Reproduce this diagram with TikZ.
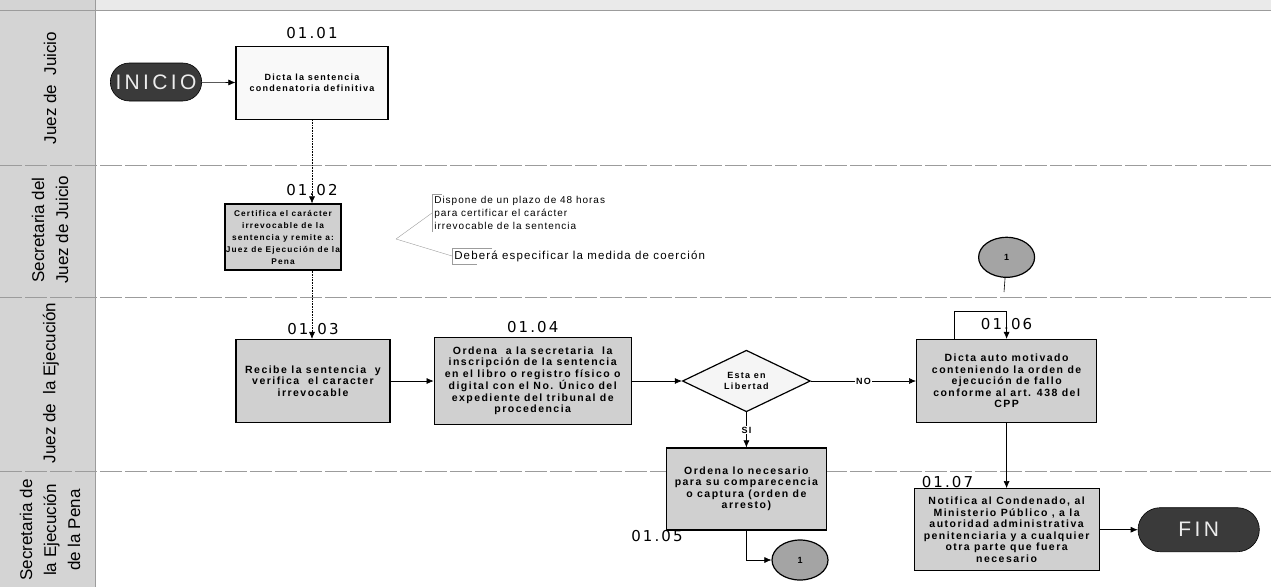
\documentclass[tikz,border=0pt]{standalone}
\usepackage{fontspec}
\setmainfont{Liberation Sans}
\newfontfamily\boxfont[LetterSpace=14]{Liberation Sans}
\newfontfamily\numfont[LetterSpace=14]{DejaVu Sans}
\newfontfamily\termfont[LetterSpace=16]{Liberation Sans}
\newfontfamily\notefont[LetterSpace=10]{Liberation Sans}
\usepackage{tikz}
\usetikzlibrary{arrows.meta,shapes,positioning}

\definecolor{lanegray}{HTML}{D4D4D4}
\definecolor{boxgray}{HTML}{D0D0D0}
\definecolor{termgray}{HTML}{3A3A3A}
\definecolor{circgray}{HTML}{A4A4A4}
\definecolor{linegray}{HTML}{9C9C9C}

\begin{document}
\begin{tikzpicture}
          [x=1pt,y=-1pt,>={Latex[length=7pt,width=6pt]},node distance=43pt,semithick]
          \tikzstyle{stepbox}=[draw=black,line width=1.2pt,fill=boxgray,align=center,inner sep=1pt,font=\boxfont\bfseries\fontsize{10.5}{11.5}\selectfont]
          \tikzstyle{stepnum}=[inner sep=0pt,font=\numfont\fontsize{15}{15}\selectfont]
          \tikzstyle{terminal}=[rounded rectangle,draw=black,fill=termgray,text=white!85!gray,minimum height=38pt,font=\termfont\fontsize{21}{21}\selectfont]
          \tikzstyle{decision}=[diamond,draw=black,line width=1.2pt,fill=gray!8,minimum width=128pt,minimum height=60pt,inner sep=0pt,align=center,font=\boxfont\bfseries\fontsize{9}{11}\selectfont]
          \tikzstyle{offpage}=[ellipse,draw=black,line width=1.2pt,fill=circgray,minimum width=56pt,minimum height=40pt,font=\boxfont\bfseries\fontsize{9}{9}\selectfont]
          \tikzstyle{lanelabel}=[rotate=90,align=center,font=\fontsize{17}{24}\selectfont]
          \tikzstyle{note}=[align=left,inner sep=2pt,font=\notefont\fontsize{10}{13}\selectfont]
          \tikzstyle{noteline}=[draw=linegray,thin]

          \useasboundingbox (0,0) rectangle (1271,587);

          % swimlanes
          \fill[lanegray!50] (0,0) rectangle (1271,10);
          \fill[lanegray] (0,0) rectangle (95,587);
          \draw[linegray] (0,10) -- (1271,10);
          \draw[linegray] (95,0) -- (95,587);
          \foreach \y in {165,297,471}
            \draw[linegray,dash pattern=on 22pt off 3pt] (0,\y) -- (1271,\y);

          \node[lanelabel] (lane1) at (50,88) {Juez de\ \ Juicio};
          \node[lanelabel] (lane2) at (50,230) {Secretaria del\\Juez de Juicio};
          \node[lanelabel] (lane3) at (51,383) {Juez de\ \ la Ejecución};
          \node[lanelabel] (lane4) at (50,530) {Secretaria de\\la Ejecución\\de la Pena};

          % steps
          \node[terminal,minimum width=98pt] (ini) at (156,82) {INICIO};
          \node[stepbox,fill=gray!5,minimum width=152pt,minimum height=73pt,font=\boxfont\bfseries\fontsize{9}{11}\selectfont] (p1) at (312,83) {Dicta la sentencia\\condenatoria definitiva};
          \node[stepbox,minimum width=108pt,minimum height=66pt,font=\boxfont\bfseries\fontsize{8.3}{12}\selectfont] (p2) at (283,237) {Certifica el carácter\\irrevocable de la\\sentencia y remite a:\\Juez de Ejecución de la\\Pena};
          \node[stepbox,minimum width=154pt,minimum height=83pt] (p3) at (313,381) {Recibe la sentencia\ \ y\\verifica\ \ el caracter\\irrevocable};
          \node[stepbox,minimum width=197pt,minimum height=87pt] (p4) [right=of p3] {Ordena\ \ a la secretaria\ \ la\\inscripción de la sentencia\\en el libro o registro físico o\\digital con el No. Único del\\expediente del tribunal de\\procedencia};
          \node[decision] (d1) [right=50pt of p4] {Esta en\\Libertad};
          \node[stepbox,minimum width=180pt,minimum height=83pt] (p6) [right=105pt of d1] {Dicta auto motivado\\conteniendo la orden de\\ejecución de fallo\\conforme al art. 438 del\\CPP};
          \node[stepbox,minimum width=160pt,minimum height=82pt] (p5) [below=35pt of d1] {Ordena lo necesario\\para su comparecencia\\o captura (orden de\\arresto)};
          \node[offpage] (c1) [above=61pt of p6] {1};
          \node[offpage] (c2) at (800,560) {1};
          \node[stepbox,minimum width=185pt,minimum height=82pt] (p7) [below=65pt of p6] {Notifica al Condenado, al\\Ministerio Público , a la\\autoridad administrativa\\penitenciaria y a cualquier\\otra parte que fuera\\necesario};
          \node[terminal,minimum width=128pt,minimum height=44pt] (fin) [right=38pt of p7] {FIN};

          % step numbers
          \node[stepnum] (n1) [above=7pt of p1] {01.01};
          \node[stepnum] (n2) [above=7pt of p2.north -| p1] {01.02};
          \node[stepnum] (n3) [above=4pt of p3] {01.03};
          \node[stepnum] (n4) [above=4pt of p4] {01.04};
          \node[stepnum,anchor=north west] (n5) at (631,530) {01.05};
          \node[stepnum] (n6) [above=9pt of p6] {01.06};
          \node[stepnum,anchor=south west] (n7) at ([xshift=8pt]p7.north west) {01.07};

          % notes
          \node[note,anchor=north west] (a1) at (432,194) {Dispone de un plazo de 48 horas\\para certificar el carácter\\irrevocable de la sentencia};
          \node[note,anchor=west,font=\notefont\fontsize{11.5}{13}\selectfont] (a2) at (452,256) {Deberá especificar la medida de coerción};
          \draw[noteline] ([xshift=10pt]a1.north west) -- (a1.north west) -- (a1.south west);
          \draw[noteline] ([xshift=40pt]a2.north west) -- (a2.north west) -- (a2.south west) -- ++(25pt,0pt);
          \coordinate (k0) at (396,239);
          \draw[noteline] (k0) -- (a1.west);
          \draw[noteline] (k0) -- (a2.west);

          % flow
          \path[->,font=\boxfont\bfseries\fontsize{9}{9}\selectfont]
          (ini) edge (p1)
          (p3) edge (p4)
          (p4) edge (d1)
          (d1) edge node[fill=white,inner sep=1pt] {NO} (p6)
          (d1) edge node[fill=white,inner sep=1pt] {SI} (p5)
          (p6) edge (p7)
          (p7) edge (fin)
          ;
          \draw[->,densely dotted] (p1) -- (p2.north -| p1);
          \draw[->,densely dotted] (p2.south -| p1) -- (p3.north -| p1);
          \draw[->] (p5) |- (c2);
          \coordinate (k1) at (1004,292);
          \draw (c1) -- (k1);
          \coordinate (k2) at ([xshift=-52pt]p6.north);
          \draw[->] (k2) -- ++(0pt,28pt) -| (p6.north);
        \end{tikzpicture}
\end{document}
